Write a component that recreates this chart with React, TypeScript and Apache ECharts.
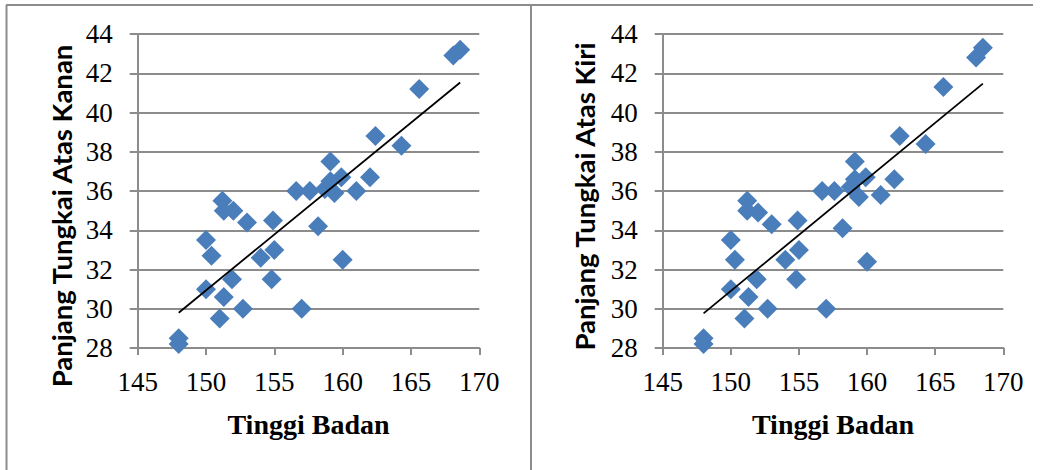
import React, { useEffect, useRef } from "react";
import * as echarts from "echarts";

// Tinggi Badan (x) and Panjang Tungkai Atas Kanan (y) – left chart
const tinggiKanan = [148, 148, 150, 150, 150.4, 151, 151.3, 151.2, 151.3, 152, 151.9, 152.7, 153, 154, 154.9, 155, 154.8, 157, 156.6, 157.6, 158.2, 159.1, 158.7, 159.1, 159.4, 159.9, 160, 161, 162, 162.4, 164.3, 165.6, 168.1, 168.6];
const tungkaiKanan = [28.5, 28.2, 31, 33.5, 32.7, 29.5, 30.6, 35.5, 35, 35, 31.5, 30, 34.4, 32.6, 34.5, 33, 31.5, 30, 36, 36, 34.2, 37.5, 36.1, 36.5, 35.9, 36.7, 32.5, 36, 36.7, 38.8, 38.3, 41.2, 42.9, 43.2];

// Tinggi Badan (x) and Panjang Tungkai Atas Kiri (y) – right chart
const tinggiKiri = [148, 148, 150, 150, 150.3, 151, 151.3, 151.2, 151.2, 152, 151.9, 152.7, 153, 154, 154.9, 155, 154.8, 157, 156.7, 157.6, 158.2, 159.1, 158.8, 159.1, 159.4, 159.9, 160, 161, 162, 162.4, 164.3, 165.6, 168, 168.5];
const tungkaiKiri = [28.5, 28.2, 31, 33.5, 32.5, 29.5, 30.6, 35.5, 35, 34.9, 31.5, 30, 34.3, 32.5, 34.5, 33, 31.5, 30, 36, 36, 34.1, 37.5, 36.2, 36.6, 35.7, 36.7, 32.4, 35.8, 36.6, 38.8, 38.4, 41.3, 42.8, 43.3];

const xTitle = "Tinggi Badan";
const yTitles = ["Panjang Tungkai Atas Kanan", "Panjang Tungkai Atas Kiri"];
const xTicks = { min: 145, max: 170, interval: 5 };
const yTicks = { min: 28, max: 44, interval: 2 };

function linearFit(xs: number[], ys: number[]) {
  const n = xs.length;
  const mx = xs.reduce((a, b) => a + b, 0) / n;
  const my = ys.reduce((a, b) => a + b, 0) / n;
  let sxy = 0, sxx = 0;
  for (let i = 0; i < n; i++) {
    sxy += (xs[i] - mx) * (ys[i] - my);
    sxx += (xs[i] - mx) * (xs[i] - mx);
  }
  const b = sxy / sxx;
  const a = my - b * mx;
  const x0 = Math.min(...xs);
  const x1 = Math.max(...xs);
  return [[x0, a + b * x0], [x1, a + b * x1]];
}

const GRAY = "#8c8c8c";
const BLUE = "#4a7ebb";

export default function App() {
  const ref = useRef<HTMLDivElement>(null);
  useEffect(() => {
    if (!ref.current) return;
    const chart = echarts.init(ref.current, undefined, { renderer: "svg" });
    const sets = [
      { xs: tinggiKanan, ys: tungkaiKanan },
      { xs: tinggiKiri, ys: tungkaiKiri },
    ];
    const grids = [
      { left: 137.7, top: 34, width: 341.6, height: 314 },
      { left: 662.7, top: 34, width: 340.6, height: 314 },
    ];
    const option: any = {
      animation: false,
      backgroundColor: "#ffffff",
      grid: grids,
      xAxis: grids.map((_, i) => ({
        gridIndex: i,
        type: "value",
        ...xTicks,
        name: xTitle,
        nameLocation: "middle",
        nameGap: 62,
        nameTextStyle: { fontFamily: "Liberation Serif", fontWeight: "bold", fontSize: 28, color: "#000" },
        axisLine: { show: true, onZero: false, lineStyle: { color: GRAY, width: 2 } },
        axisTick: { show: true, length: 7, lineStyle: { color: GRAY, width: 2 } },
        axisLabel: { fontFamily: "Liberation Serif", fontSize: 27, color: "#000", margin: 20 },
        splitLine: { show: false },
      })),
      yAxis: grids.map((_, i) => ({
        gridIndex: i,
        type: "value",
        ...yTicks,
        axisLine: { show: true, onZero: false, lineStyle: { color: GRAY, width: 2 } },
        axisTick: { show: true, length: 8, lineStyle: { color: GRAY, width: 2 } },
        axisLabel: { fontFamily: "Liberation Serif", fontSize: 27, color: "#000", margin: 25 },
        splitLine: { show: true, lineStyle: { color: GRAY, width: 2 } },
      })),
      series: sets.flatMap((s, i) => [
        {
          type: "scatter",
          xAxisIndex: i,
          yAxisIndex: i,
          symbol: "diamond",
          symbolSize: 20,
          itemStyle: { color: BLUE, opacity: 1 },
          data: s.xs.map((x, k) => [x, s.ys[k]]),
          z: 2,
        },
        {
          type: "line",
          xAxisIndex: i,
          yAxisIndex: i,
          showSymbol: false,
          symbol: "none",
          lineStyle: { color: "#000", width: 1.8 },
          data: linearFit(s.xs, s.ys),
          z: 3,
        },
      ]),
      graphic: [
        { type: "line", shape: { x1: 6, y1: 5, x2: 1033, y2: 5 }, style: { stroke: GRAY, lineWidth: 2 } },
        { type: "line", shape: { x1: 6.5, y1: 5, x2: 6.5, y2: 470 }, style: { stroke: GRAY, lineWidth: 2 } },
        { type: "line", shape: { x1: 531, y1: 5, x2: 531, y2: 470 }, style: { stroke: GRAY, lineWidth: 2 } },
        {
          type: "text",
          x: 61,
          y: 216,
          rotation: Math.PI / 2,
          style: { text: yTitles[0], font: "bold 27.5px Lato", fill: "#000", align: "center", verticalAlign: "middle" },
        },
        {
          type: "text",
          x: 584,
          y: 196.5,
          rotation: Math.PI / 2,
          style: { text: yTitles[1], font: "bold 27.5px Lato", fill: "#000", align: "center", verticalAlign: "middle" },
        },
      ],
    };
    chart.setOption(option);
    return () => chart.dispose();
  }, []);
  return (
    <div
      ref={ref}
      style={{ position: "absolute", left: 0, top: 0, width: 1043, height: 470 }}
    />
  );
}
